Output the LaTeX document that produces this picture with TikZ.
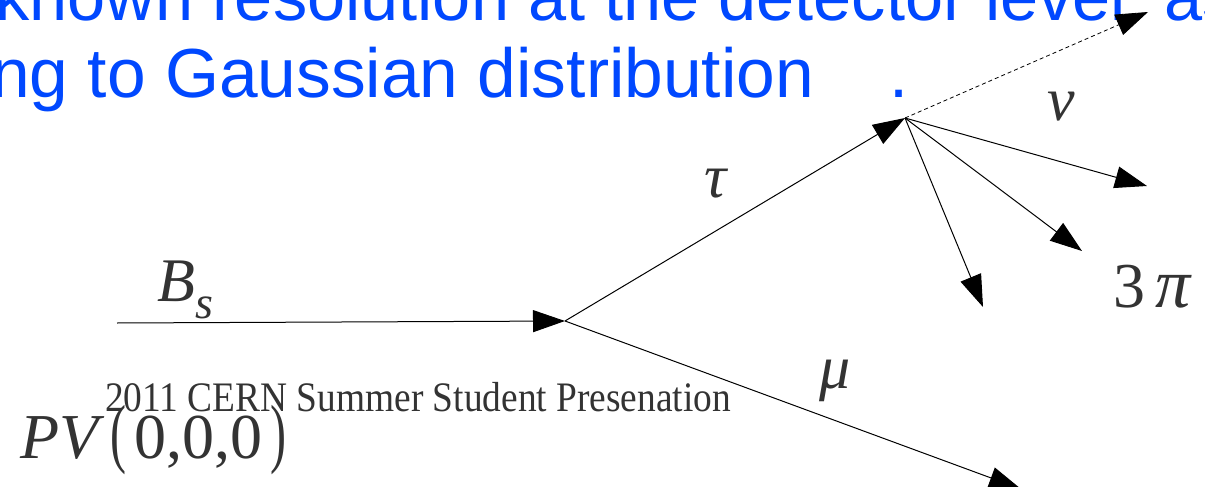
\documentclass[tikz,border=0pt]{standalone}
\usepackage{fontspec}
\setmainfont{Liberation Serif}
\newfontfamily\arialf{Liberation Sans}
\usetikzlibrary{arrows.meta}
\definecolor{slideblue}{RGB}{0,72,255}
\definecolor{labelgray}{RGB}{51,51,51}
\newcommand{\condtxt}[1]{\scalebox{0.89}[1]{#1}}
\newcommand{\tallparen}[1]{\scalebox{0.75}[1.2]{#1}}
\begin{document}
\begin{tikzpicture}[x=1pt,y=-1pt,
  track/.style={line width=1pt,-{Triangle[length=32pt,width=22pt]}},
  nutrack/.style={line width=0.8pt,dash pattern=on 4pt off 3pt,-{Triangle[length=32pt,width=22pt]}},
  bluetext/.style={text=slideblue,font=\arialf\fontsize{68.5}{80}\selectfont,inner sep=0pt,anchor=base west},
  lab/.style={text=labelgray,font=\fontsize{62}{62}\selectfont\itshape,inner sep=0pt,anchor=base},
  plain/.style={text=labelgray,inner sep=0pt,anchor=base west}]
\useasboundingbox (0,0) rectangle (1205,487);
\clip (0,0) rectangle (1205,487);
% slide text
\node[bluetext] (l1) at (-5,21) {known resolution at the detector level};
\node[bluetext] (l1b) at (1164,21) {as};
\node[bluetext,font=\arialf\fontsize{69.5}{80}\selectfont] (l2) at (-9,97) {ng to Gaussian distribution};
\node[bluetext] (dot) at (889,97) {.};
% vertices
\coordinate (bs0) at (117,323);
\coordinate (v1) at (565,321);
\coordinate (v2) at (905,118);
\coordinate (mu) at (1021,489);
\coordinate (nu) at (1148,12);
\coordinate (p1) at (1147,186);
\coordinate (p2) at (1082,251);
\coordinate (p3) at (983,307);
% tracks
\draw[track] (bs0) -- (v1);
\draw[track] (v1) -- (v2);
\draw[track] (v1) -- (mu);
\draw[nutrack] (v2) -- (nu);
\draw[track] (v2) -- (p1);
\draw[track] (v2) -- (p2);
\draw[track] (v2) -- (p3);
% labels
\node[lab,anchor=base west] (bslab) at (157,301) {B\raisebox{-17pt}{\fontsize{46}{46}\selectfont s}};
\node[lab] (taulab) at (716,197) {τ};
\node[lab] (nulab) at (1061,120) {ν};
\node[lab] (mulab) at (835,388) {μ};
\node[lab,anchor=base west,font=\fontsize{64}{64}\selectfont] (pilab) at (1113,307) {3\,{\itshape\fontsize{70}{70}\selectfont π}};
\node[plain,font=\fontsize{64}{64}\selectfont] (pv) at (20,458) {\itshape PV\upshape\hspace{12pt}\tallparen{(}\hspace{8pt}0,0,0\hspace{8pt}\tallparen{)}};
\node[plain,font=\fontsize{42}{42}\selectfont] (cern) at (105,411) {\condtxt{2011 CERN Summer Student Presenation}};
\end{tikzpicture}
\end{document}
